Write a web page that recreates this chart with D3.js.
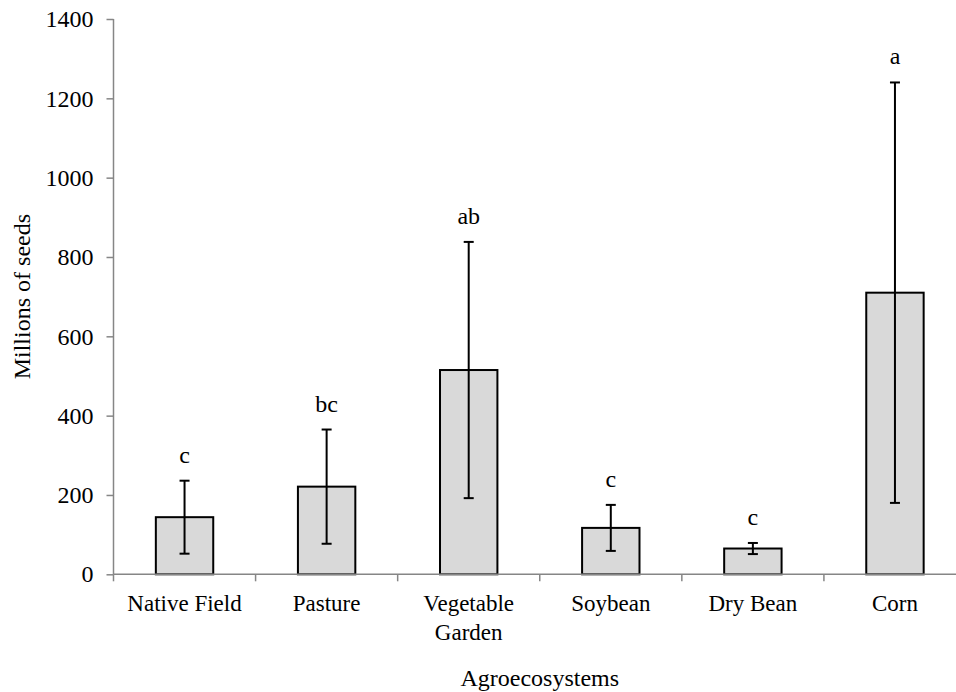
<!DOCTYPE html>
<html>
<head>
<meta charset="utf-8">
<script src="https://cdn.jsdelivr.net/npm/d3@7"></script>
<style>
  body { margin: 0; background: #fff; }
  text { font-family: "Liberation Serif", "Times New Roman", serif; fill: #000; }
</style>
</head>
<body>
<div id="myChart"></div>
<script>
// data
var categories = ["Native Field", "Pasture", "Vegetable Garden", "Soybean", "Dry Bean", "Corn"];
var means = [144, 221, 515, 117, 65, 710];
var errors = [92, 144, 323, 58, 14, 530];
var letters = ["c", "bc", "ab", "c", "c", "a"];
var yTicks = [0, 200, 400, 600, 800, 1000, 1200, 1400];

var w = 956, h = 692;
var padLeft = 113.5, padRight = 966, padTop = 19, padBottom = 574.3;
var barFrac = 0.404;
var capW = 10;
var fontSize = 24;

var dataset = categories.map(function(c, i) {
  return { name: c, mean: means[i], err: errors[i], letter: letters[i] };
});

var svg = d3.select("#myChart").append("svg")
  .attr("width", w)
  .attr("height", h);

svg.append("rect").attr("width", w).attr("height", h).attr("fill", "#fff");

var x = d3.scaleBand()
  .domain(categories)
  .range([padLeft, padRight])
  .paddingInner(0)
  .paddingOuter(0);

var y = d3.scaleLinear()
  .domain([0, 1400])
  .range([padBottom, padTop]);

var bw = x.bandwidth() * barFrac;

// bars
svg.selectAll("rect.bar")
  .data(dataset)
  .enter()
  .append("rect")
  .attr("class", "bar")
  .attr("x", function(d) { return x(d.name) + (x.bandwidth() - bw) / 2; })
  .attr("y", function(d) { return y(d.mean); })
  .attr("width", bw)
  .attr("height", function(d) { return y(0) - y(d.mean); })
  .attr("fill", "#d9d9d9")
  .attr("stroke", "#000")
  .attr("stroke-width", 2);

// error bars
var eb = svg.selectAll("g.err")
  .data(dataset)
  .enter()
  .append("g")
  .attr("class", "err")
  .attr("stroke", "#000")
  .attr("stroke-width", 2);

eb.append("line")
  .attr("x1", function(d) { return x(d.name) + x.bandwidth() / 2; })
  .attr("x2", function(d) { return x(d.name) + x.bandwidth() / 2; })
  .attr("y1", function(d) { return y(d.mean + d.err); })
  .attr("y2", function(d) { return y(d.mean - d.err); });

eb.selectAll("line.cap")
  .data(function(d) { return [d.mean + d.err, d.mean - d.err].map(function(v) { return { name: d.name, v: v }; }); })
  .enter()
  .append("line")
  .attr("class", "cap")
  .attr("x1", function(d) { return x(d.name) + x.bandwidth() / 2 - capW / 2; })
  .attr("x2", function(d) { return x(d.name) + x.bandwidth() / 2 + capW / 2; })
  .attr("y1", function(d) { return y(d.v); })
  .attr("y2", function(d) { return y(d.v); });

// significance letters
svg.selectAll("text.letter")
  .data(dataset)
  .enter()
  .append("text")
  .attr("class", "letter")
  .attr("x", function(d) { return x(d.name) + x.bandwidth() / 2; })
  .attr("y", function(d) { return y(d.mean + d.err) - 18; })
  .attr("text-anchor", "middle")
  .attr("font-size", fontSize + "px")
  .text(function(d) { return d.letter; });

// y axis
var yAxis = d3.axisLeft(y)
  .tickValues(yTicks)
  .tickSize(7)
  .tickPadding(13)
  .tickFormat(d3.format("d"));

var gy = svg.append("g")
  .attr("class", "axis")
  .attr("transform", "translate(" + padLeft + ",0)")
  .call(yAxis);
gy.select(".domain").attr("stroke", "#868686").attr("stroke-width", 1.5).attr("d", "M0," + padTop + "V" + padBottom);
gy.selectAll(".tick line").attr("stroke", "#868686").attr("stroke-width", 1.5);
gy.selectAll(".tick text")
  .attr("font-size", fontSize + "px")
  .attr("font-family", "Liberation Serif, serif")
  .attr("fill", "#000");

// x axis: line and ticks at category boundaries
var gx = svg.append("g").attr("class", "axis");
gx.append("line")
  .attr("x1", padLeft).attr("x2", padRight)
  .attr("y1", y(0)).attr("y2", y(0))
  .attr("stroke", "#868686").attr("stroke-width", 1.5);

var edges = categories.map(function(c) { return x(c); }).concat([padRight]);
gx.selectAll("line.xtick")
  .data(edges)
  .enter()
  .append("line")
  .attr("class", "xtick")
  .attr("x1", function(d) { return d; })
  .attr("x2", function(d) { return d; })
  .attr("y1", y(0))
  .attr("y2", y(0) + 7)
  .attr("stroke", "#868686").attr("stroke-width", 1.5);

// category labels (wrapped on the word where the picture wraps)
var catLabels = gx.selectAll("text.cat")
  .data(dataset)
  .enter()
  .append("text")
  .attr("class", "cat")
  .attr("text-anchor", "middle")
  .attr("font-size", "23px")
  .attr("y", y(0) + 37);

catLabels.each(function(d) {
  var lines = d.name == "Vegetable Garden" ? ["Vegetable", "Garden"] : [d.name];
  var t = d3.select(this);
  lines.forEach(function(l, i) {
    t.append("tspan")
      .attr("x", x(d.name) + x.bandwidth() / 2)
      .attr("dy", i == 0 ? 0 : 28.5)
      .text(l);
  });
});

// axis titles
svg.append("text")
  .attr("x", (padLeft + padRight) / 2)
  .attr("y", 686)
  .attr("text-anchor", "middle")
  .attr("font-size", fontSize + "px")
  .text("Agroecosystems");

svg.append("text")
  .attr("transform", "translate(30," + ((padTop + padBottom) / 2) + ") rotate(-90)")
  .attr("text-anchor", "middle")
  .attr("font-size", fontSize + "px")
  .text("Millions of seeds");
</script>
</body>
</html>
